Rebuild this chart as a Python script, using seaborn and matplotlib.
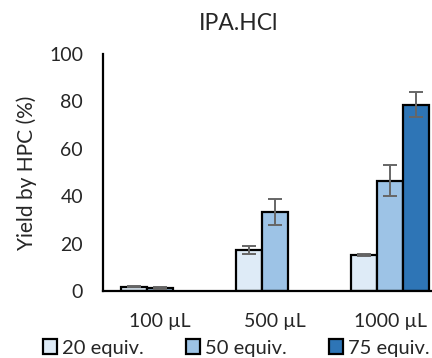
import numpy as np
import pandas as pd
import matplotlib
matplotlib.use("Agg")
import matplotlib.pyplot as plt
import seaborn as sns

volumes = ["100 µL", "500 µL", "1000 µL"]
equivs = ["20 equiv.", "50 equiv.", "75 equiv."]
yield_20 = [1.8, 17.4, 15.2]
err_20 = [0.3, 1.7, 0.3]
yield_50 = [1.2, 33.3, 46.5]
err_50 = [0.4, 5.4, 6.6]
yield_75 = [np.nan, np.nan, 78.6]
err_75 = [np.nan, np.nan, 5.3]
colors = ["#DEEBF7", "#9DC3E6", "#2E75B6"]

rows = []
for eq, ys, es in zip(equivs, [yield_20, yield_50, yield_75], [err_20, err_50, err_75]):
    for v, y, e in zip(volumes, ys, es):
        rows.append({"volume": v, "equiv": eq, "yield": y, "err": e})
df = pd.DataFrame(rows).dropna()

sns.set_style("white")
plt.rcParams["font.family"] = ["Lato", "DejaVu Sans"]

fig = plt.figure(figsize=(4.32, 3.58), dpi=100)
ax = fig.add_axes([102.5 / 432, 67 / 358, 345 / 432, 237 / 358])

sns.barplot(data=df, x="volume", y="yield", hue="equiv", order=volumes,
            hue_order=equivs, palette=colors, saturation=1, width=0.68, gap=0.0,
            edgecolor="black", linewidth=1.6, errorbar=None, ax=ax, legend=True)

for cont, eq in zip(ax.containers, equivs):
    sub = df[df["equiv"] == eq].set_index("volume").reindex(volumes).dropna()
    for bar, (_, r) in zip(cont, sub.iterrows()):
        xc = bar.get_x() + bar.get_width() / 2
        ax.errorbar(xc, r["yield"], yerr=r["err"], fmt="none", ecolor="#666666",
                    elinewidth=1.4, capsize=5, capthick=1.4, zorder=5)

ax.set_xlim(-0.5, 2.5)
ax.set_ylim(0, 100)
ax.set_yticks([0, 20, 40, 60, 80, 100])
ax.set_xlabel("")
ax.set_ylabel("Yield by HPC (%)", fontsize=15)
ax.yaxis.set_label_coords(-0.19, 0.5)
ax.tick_params(axis="y", length=0, pad=14, labelsize=14)
ax.tick_params(axis="x", length=0, pad=16, labelsize=14)
for s in ["top", "right"]:
    ax.spines[s].set_visible(False)
for s in ["left", "bottom"]:
    ax.spines[s].set_color("black")
    ax.spines[s].set_linewidth(1.6)

handles, labels = ax.get_legend_handles_labels()
ax.get_legend().remove()
fig.legend(handles, labels, loc="center", bbox_to_anchor=(236.5 / 432, 1 - 348 / 358),
           ncol=3, frameon=False, fontsize=14.5, handlelength=0.7, handleheight=0.7,
           handletextpad=0.25, columnspacing=2.1, borderaxespad=0, borderpad=0)

fig.text(239 / 432, 1 - 23 / 358, "IPA.HCl", ha="center", va="center", fontsize=16.5)

fig.savefig("out.png", dpi=100)
